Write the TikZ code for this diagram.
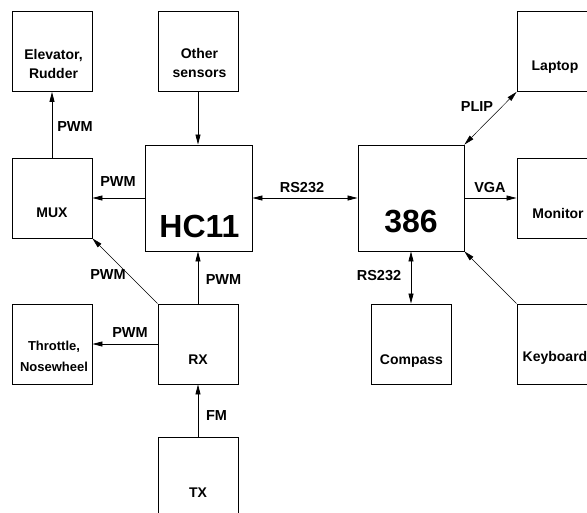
\documentclass[tikz,border=0pt]{standalone}
\usepackage{fontspec}
\setmainfont{Liberation Sans}
\usetikzlibrary{arrows.meta}
\tikzset{
  x=1pt, y=-1pt,
  box/.style={draw, line width=0.9pt, minimum width=80pt, minimum height=80pt, inner sep=0pt},
  bigbox/.style={box, minimum width=106pt, minimum height=106pt},
  boxtext/.style={font=\fontsize{14}{19}\selectfont\bfseries, align=center, inner sep=0pt},
  bigtext/.style={font=\fontsize{32}{36}\selectfont\bfseries, inner sep=0pt},
  lbl/.style={font=\fontsize{14.5}{17}\selectfont\bfseries, inner sep=0pt},
  arr/.style={line width=0.8pt, -{Triangle[length=10pt,width=5pt]}},
  arrr/.style={line width=0.8pt, {Triangle[length=10pt,width=5pt]}-{Triangle[length=10pt,width=5pt]}},
  darr/.style={line width=0.5pt, -{Triangle[length=10pt,width=5pt]}},
  darrr/.style={line width=0.5pt, {Triangle[length=10pt,width=5pt]}-{Triangle[length=10pt,width=5pt]}},
}
\begin{document}
\begin{tikzpicture}
\useasboundingbox (0,0) rectangle (587,512);
% boxes
\node[box] (elev) at (52,51.5) {};
\node[box] (other) at (198,51.5) {};
\node[box] (laptop) at (557,51.5) {};
\node[box] (mux) at (52,198) {};
\node[bigbox, minimum width=107pt, minimum height=106pt] (hc11) at (198.5,198) {};
\node[bigbox] (c386) at (411,198) {};
\node[box] (monitor) at (557,198) {};
\node[box] (throttle) at (52,344) {};
\node[box] (rx) at (198,344) {};
\node[box] (compass) at (411,344) {};
\node[box] (keyboard) at (557,344) {};
\node[box] (tx) at (198,477) {};
% box texts
\node[boxtext] (elevt) at (53.5,63.5) {Elevator,\\Rudder};
\node[boxtext] (othert) at (199.5,62.5) {Other\\sensors};
\node[boxtext] (laptopt) at (555,67) {Laptop};
\node[boxtext] (muxt) at (52,213) {MUX};
\node[bigtext] (hc11t) at (199.5,226) {HC11};
\node[bigtext] (c386t) at (411,222) {386};
\node[boxtext] (monitort) at (558,213) {Monitor};
\node[boxtext, font=\fontsize{13}{21}\selectfont\bfseries] (throttlet) at (54,356.5) {Throttle,\\Nosewheel};
\node[boxtext] (rxt) at (198,360) {RX};
\node[boxtext] (compasst) at (411.5,361) {Compass};
\node[boxtext, anchor=west] (keyboardt) at (522.5,358) {Keyboard};
\node[boxtext] (txt) at (198,493) {TX};
% connectors
\draw[arr] (mux.north) -- (elev.south);
\draw[arr] (hc11.west |- mux.east) -- (mux.east);
\draw[arr] (other.south) -- (other.south |- hc11.north);
\draw[arrr] (hc11.east |- c386.west) -- (c386.west);
\draw[arr] (c386.east) -- (monitor.west);
\draw[darrr] (c386.north east) -- (laptop.south west);
\draw[arrr] (c386.south -| compass.north) -- (compass.north);
\draw[darr] (keyboard.north west) -- (c386.south east);
\draw[arr] (rx.north) -- (rx.north |- hc11.south);
\draw[darr] (rx.north west) -- (mux.south east);
\draw[arr] (rx.west) -- (throttle.east);
\draw[arr] (tx.north) -- (rx.south);
% labels
\node[lbl] (l1) at (75,127) {PWM};
\node[lbl] (l2) at (118,182) {PWM};
\node[lbl] (l3) at (302,188) {RS232};
\node[lbl] (l4) at (108,275) {PWM};
\node[lbl] (l5) at (223.5,280) {PWM};
\node[lbl] (l6) at (130,333) {PWM};
\node[lbl] (l7) at (216.5,416) {FM};
\node[lbl] (l8) at (477,107) {PLIP};
\node[lbl] (l9) at (490,188) {VGA};
\node[lbl] (l10) at (379,276) {RS232};
\end{tikzpicture}
\end{document}
